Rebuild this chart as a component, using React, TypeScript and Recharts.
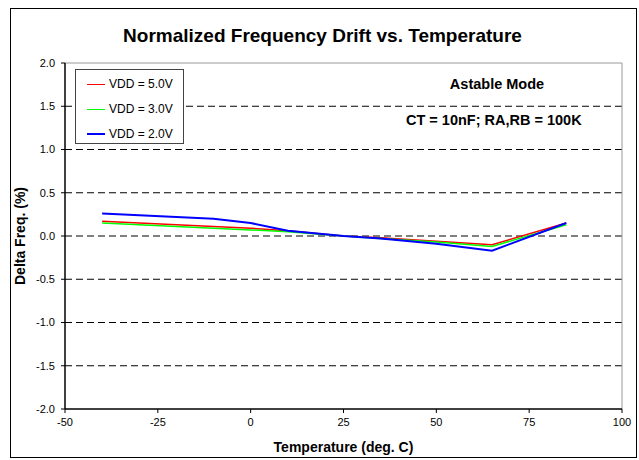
import React from "react";
import {
  LineChart, Line, XAxis, YAxis, CartesianGrid, ReferenceLine,
} from "recharts";

// temperature points (deg C)
const temps = [-40, -30, -20, -10, 0, 10, 25, 35, 50, 65, 85];
// delta freq (%) per supply voltage
const vdd50 = [0.17, 0.15, 0.13, 0.11, 0.09, 0.06, 0.0, -0.02, -0.06, -0.10, 0.15];
const vdd30 = [0.15, 0.13, 0.11, 0.09, 0.07, 0.05, 0.0, -0.03, -0.07, -0.12, 0.13];
const vdd20 = [0.26, 0.24, 0.22, 0.20, 0.15, 0.06, 0.0, -0.03, -0.09, -0.17, 0.15];

const xTicks = [-50, -25, 0, 25, 50, 75, 100];
const xMinor = [-50, -45, -40, -35, -30, -25, -20, -15, -10, -5, 0, 5, 10, 15, 20, 25, 30, 35, 40, 45, 50, 55, 60, 65, 70, 75, 80, 85, 90, 95, 100];
const yTicks = [-2, -1.5, -1, -0.5, 0, 0.5, 1, 1.5, 2];
const yMinor = [-2, -1.9, -1.8, -1.7, -1.6, -1.5, -1.4, -1.3, -1.2, -1.1, -1, -0.9, -0.8, -0.7, -0.6, -0.5, -0.4, -0.3, -0.2, -0.1, 0,
  0.1, 0.2, 0.3, 0.4, 0.5, 0.6, 0.7, 0.8, 0.9, 1, 1.1, 1.2, 1.3, 1.4, 1.5, 1.6, 1.7, 1.8, 1.9, 2];
const gridValues = [-1.5, -1, -0.5, 0, 0.5, 1, 1.5];

const series = [
  { key: "v50", name: "VDD = 5.0V", color: "#ff0000", width: 1.5 },
  { key: "v30", name: "VDD = 3.0V", color: "#00ff00", width: 1.5 },
  { key: "v20", name: "VDD = 2.0V", color: "#0000ff", width: 2 },
];

const data = temps.map((t, i) => ({ t, v50: vdd50[i], v30: vdd30[i], v20: vdd20[i] }));

const FONT = "Arial, 'Liberation Sans', sans-serif";

export default function App() {
  const tickStyle = { fontSize: 11, fill: "#000", fontFamily: FONT };
  return (
    <div style={{ position: "absolute", left: 0, top: 0, width: 639, height: 460, background: "#fff", fontFamily: FONT }}>
      <div style={{ position: "absolute", left: 10, top: 8, width: 627, height: 450, border: "1px solid #000", boxSizing: "border-box" }} />
      <LineChart
        width={639}
        height={460}
        data={data}
        margin={{ top: 63, right: 17, bottom: 0, left: 0 }}
        style={{ position: "absolute", left: 0, top: 0 }}
      >
        <CartesianGrid
          vertical={false}
          horizontalValues={gridValues}
          stroke="#000"
          strokeDasharray="7 4"
        />
        <XAxis
          xAxisId="minor"
          dataKey="t"
          type="number"
          domain={[-50, 100]}
          ticks={xMinor}
          tick={false}
          height={0}
          mirror
          tickSize={3}
          axisLine={false}
          tickLine={{ stroke: "#000" }}
        />
        <XAxis
          dataKey="t"
          type="number"
          domain={[-50, 100]}
          ticks={xTicks}
          interval={0}
          height={51}
          tickSize={4}
          tickMargin={5}
          tick={tickStyle}
          axisLine={{ stroke: "#000", strokeWidth: 1.5 }}
          tickLine={{ stroke: "#000" }}
          label={{ value: "Temperature (deg. C)", position: "insideBottom", offset: 8, style: { fontSize: 14, fontWeight: "bold", fill: "#000", fontFamily: FONT } }}
        />
        <YAxis
          yAxisId="minor"
          type="number"
          domain={[-2, 2]}
          ticks={yMinor}
          tick={false}
          width={0}
          mirror
          tickSize={3}
          axisLine={false}
          tickLine={{ stroke: "#000" }}
        />
        <YAxis
          type="number"
          domain={[-2, 2]}
          ticks={yTicks}
          interval={0}
          width={65}
          tickSize={4}
          tickMargin={6}
          tick={tickStyle}
          tickFormatter={(v: number) => v.toFixed(1)}
          axisLine={{ stroke: "#000", strokeWidth: 1.5 }}
          tickLine={{ stroke: "#000" }}
        />
        <ReferenceLine y={2} stroke="#999" strokeWidth={1} />
        <ReferenceLine x={100} stroke="#999" strokeWidth={1} />
        {series.map((s) => (
          <Line
            key={s.key}
            dataKey={s.key}
            type="linear"
            stroke={s.color}
            strokeWidth={s.width}
            dot={false}
            isAnimationActive={false}
          />
        ))}
      </LineChart>

      <div style={{ position: "absolute", left: 0, width: 645, top: 25, textAlign: "center", fontSize: 19, fontWeight: "bold", whiteSpace: "nowrap" }}>
        Normalized Frequency Drift vs. Temperature
      </div>
      <div style={{ position: "absolute", left: 20, top: 236, transform: "translate(-50%, -50%) rotate(-90deg)", whiteSpace: "nowrap", fontSize: 14, fontWeight: "bold" }}>
        Delta Freq. (%)
      </div>

      <div style={{ position: "absolute", left: 75, top: 69, width: 109, height: 75, border: "1px solid #444", boxSizing: "border-box", background: "#fff" }}>
        {series.map((s, i) => (
          <div key={s.key} style={{ position: "absolute", left: 11, top: 6 + i * 25, height: 16, display: "flex", alignItems: "center", fontSize: 12, whiteSpace: "nowrap" }}>
            <span style={{ display: "inline-block", width: 18, height: 0, borderTop: `${s.width}px solid ${s.color}`, marginRight: 4 }} />
            <span>{s.name}</span>
          </div>
        ))}
      </div>

      <div style={{ position: "absolute", left: 420, width: 154, top: 76, textAlign: "center", fontSize: 14.5, fontWeight: "bold", whiteSpace: "nowrap" }}>
        Astable Mode
      </div>
      <div style={{ position: "absolute", left: 406, top: 112, whiteSpace: "nowrap", fontSize: 14.5, fontWeight: "bold" }}>
        CT = 10nF; RA,RB = 100K
      </div>
    </div>
  );
}
